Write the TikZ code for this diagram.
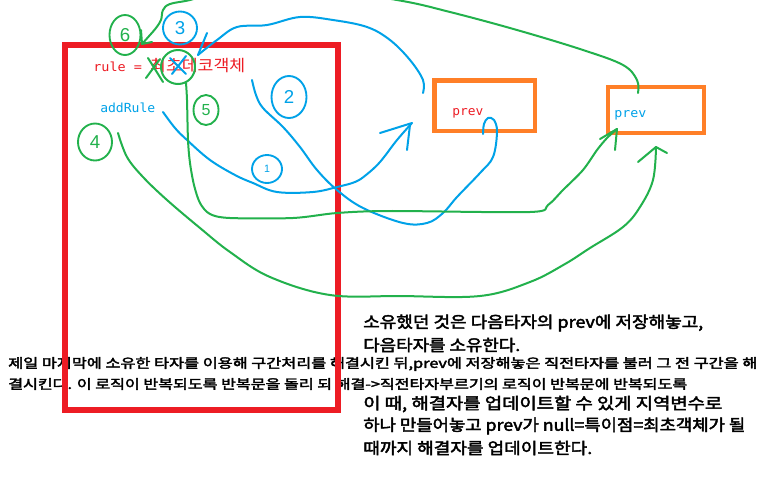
\documentclass[tikz,border=0pt]{standalone}
\usepackage{fontspec}
\usepackage{graphicx}
\usetikzlibrary{shapes.geometric}
\newfontfamily\kr{Noto Sans CJK KR}
\newfontfamily\krb{Noto Sans CJK KR}[FakeBold=2.5]
\newfontfamily\mono{DejaVu Sans Mono}
\newfontfamily\hand{Liberation Sans}
\definecolor{pRed}{RGB}{237,28,36}
\definecolor{pOrange}{RGB}{255,127,39}
\definecolor{pBlue}{RGB}{0,162,232}
\definecolor{pGreen}{RGB}{34,177,76}
\newcommand\fitto[2]{\resizebox{#1}{\height}{#2}}
\begin{document}
\begin{tikzpicture}[x=0.75pt,y=-0.75pt,
  redbox/.style={draw=pRed,line width=3.8pt,minimum width=204.75pt,minimum height=273.75pt,inner sep=0pt},
  orangebox/.style={draw=pOrange,line width=3.4pt,inner sep=0pt},
  bstroke/.style={draw=pBlue,line width=1.5pt,line cap=round,line join=round},
  gstroke/.style={draw=pGreen,line width=1.5pt,line cap=round,line join=round},
  bodytext/.style={inner sep=0pt,anchor=west,text=black,font=\krb\fontsize{12pt}{14pt}\selectfont},
  smalltext/.style={inner sep=0pt,anchor=west,text=black,font=\krb\fontsize{9.75pt}{12pt}\selectfont},
  codetext/.style={inner sep=0pt,anchor=west,font=\mono\fontsize{9.4pt}{11pt}\selectfont},
  bnum/.style={ellipse,draw=pBlue,line width=1.4pt,text=pBlue,inner sep=0pt,font=\hand\fontsize{14pt}{14pt}\selectfont},
  gnum/.style={ellipse,draw=pGreen,line width=1.4pt,text=pGreen,inner sep=0pt,font=\hand\fontsize{14pt}{14pt}\selectfont}
]
\useasboundingbox (0,0) rectangle (765,476);
\clip (0,0) rectangle (765,476);
\fill[white] (0,0) rectangle (765,476);

% bottom explanatory text
\node[bodytext] (t1) at (363,323) {\fitto{255pt}{소유했던 것은 다음타자의 prev에 저장해놓고,}};
\node[bodytext] (t2) at (363,345) {\fitto{117.75pt}{다음타자를 소유한다.}};
\node[smalltext] (s1) at (8,364) {\fitto{561.75pt}{제일 마지막에 소유한 타자를 이용해 구간처리를 해결시킨 뒤,prev에 저장해놓은 직전타자를 불러 그 전 구간을 해}};
\node[smalltext] (s2) at (8,384) {\fitto{509.25pt}{결시킨다. 이 로직이 반복되도록 반복문을 돌리 되 해결->직전타자부르기의 로직이 반복문에 반복되도록}};
\node[bodytext] (t3) at (363,404) {\fitto{269.25pt}{이 때, 해결자를 업데이트할 수 있게 지역변수로}};
\node[bodytext] (t4) at (363,426) {\fitto{286.5pt}{하나 만들어놓고 prev가 null=특이점=최초객체가 될}};
\node[bodytext] (t5) at (363,448) {\fitto{171.75pt}{때까지 해결자를 업데이트한다.}};

% red frame
\node[redbox] (frame) at (201.5,227.5) {};

% code labels
\node[codetext,text=pRed] (rule) at (93,66) {\fitto{114pt}{rule = {\kr\fontsize{12pt}{12pt}\selectfont 최초데코객체}}};
\node[codetext,text=pBlue] (addrule) at (100,108) {\fitto{41.25pt}{addRule}};

% orange boxes
\node[orangebox,minimum width=75.4pt,minimum height=37.9pt] (box1) at (484.75,105.75) {};
\node[orangebox,minimum width=72pt,minimum height=34.5pt] (box2) at (656,110) {};
\node[codetext,text=pRed] (prev1) at (452,113) {\fitto{23.25pt}{prev}};
\node[codetext,text=pBlue] (prev2) at (614,115) {\fitto{24pt}{prev}};

% numbered circles
\node[gnum,minimum width=23.25pt,minimum height=30pt] (n6) at (125,35) {6};
\node[bnum,minimum width=25.5pt,minimum height=24.75pt] (n3) at (180,28) {3};
\node[bnum,minimum width=26.25pt,minimum height=31.5pt] (n2) at (289,97) {2};
\node[bnum,minimum width=22.5pt,minimum height=21pt,font=\hand\fontsize{8pt}{8pt}\selectfont] (n1) at (267,169) {1};
\node[gnum,minimum width=25.5pt,minimum height=27.75pt] (n4) at (95,142) {4};
\node[gnum,minimum width=18.75pt,minimum height=22.5pt,font=\hand\fontsize{12pt}{12pt}\selectfont] (n5) at (206,110) {5};

% crossing-out marks
\draw[gstroke] (148,58) -- (163,82);
\draw[gstroke] (146,78) -- (160,59);
\draw[bstroke] (170,58) -- (186,74);
\draw[bstroke] (186,56) -- (172,74);

% blue strokes
\coordinate (btopS) at (423,93);
\coordinate (btopE) at (198,55);
\draw[bstroke] plot[smooth,tension=0.6] coordinates {(btopS) (423,80) (410,60) (390,40) (367,27) (333,20) (300,17) (267,25) (237,27) (217,40) (btopE)};
\draw[bstroke] (btopE) -- (207,33);

\coordinate (b1S) at (163,112);
\coordinate (b1E) at (412,123);
\draw[bstroke] plot[smooth,tension=0.6] coordinates {(b1S) (175,128) (187,140) (210,160) (235,175) (253,183) (277,192) (313,192) (337,187) (355,182) (366,175) (380,162) (397,140) (b1E)};
\draw[bstroke] (b1E) -- (380,133);
\draw[bstroke] (410,125) -- (407,150);

\coordinate (b2S) at (252,80);
\coordinate (b2E) at (483,134);
\draw[bstroke] plot[smooth,tension=0.6] coordinates {(b2S) (256,95) (263,108) (283,127) (300,147) (317,170) (337,190) (363,208) (403,223) (427,223) (443,213) (457,197) (480,173) (493,157) (497,132) (494,120) (488,118) (484,124) (b2E)};

% green strokes
\draw[gstroke] (178,67) circle[radius=17];
\coordinate (g1S) at (186,83);
\coordinate (g1E) at (617,129);
\draw[gstroke] plot[smooth,tension=0.5] coordinates {(g1S) (187,100) (188,140) (190,163) (194,185) (200,203) (210,214) (230,218) (293,218) (337,213) (390,211) (530,212) (548,205) (563,190) (583,170) (597,150) (607,138) (g1E)};
\draw[gstroke] (g1E) -- (600,139);
\draw[gstroke] (g1E) -- (615,150);

\coordinate (g2S) at (118,133);
\coordinate (g2E) at (656,147);
\draw[gstroke] plot[smooth,tension=0.6] coordinates {(g2S) (127,157) (143,177) (167,200) (200,228) (230,252) (270,277) (330,295) (400,296) (480,296) (530,282) (565,264) (590,248) (623,227) (640,207) (653,180) (g2E)};
\draw[gstroke] (g2E) -- (638,162);
\draw[gstroke] (g2E) -- (667,153);

\coordinate (g3S) at (638,93);
\coordinate (g3E) at (142,44);
\draw[gstroke] plot[smooth,tension=0.6] coordinates {(g3S) (637,80) (623,65) (583,50) (517,30) (450,12) (397,0) (300,-14) (220,-8) (190,0) (170,4) (163,10) (161,20) (156,28) (150,35) (g3E)};
\draw[gstroke] (g3E) -- (141,30);
\draw[gstroke] (g3E) -- (152,42);
\end{tikzpicture}
\end{document}
